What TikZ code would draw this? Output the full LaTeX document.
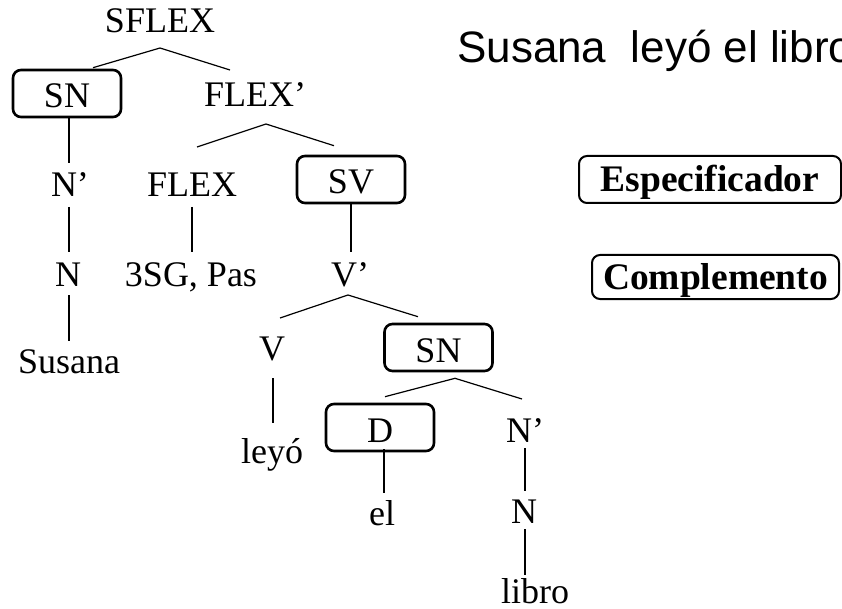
\documentclass[tikz,border=0pt]{standalone}
\usepackage{fontspec}
\setmainfont{Liberation Serif}
\newfontfamily\titlefont{Liberation Sans}
\usetikzlibrary{calc}
\begin{document}
\begin{tikzpicture}[x=1pt,y=-1pt,
  lbl/.style={inner sep=0pt,anchor=base,font=\fontsize{36}{40}\selectfont},
  tbox/.style={draw,line width=2.6pt,rounded corners=8pt,inner sep=0pt,
    minimum width=108pt,minimum height=47pt,text height=29pt,text depth=0pt,
    font=\fontsize{36}{40}\selectfont},
  lbox/.style={draw,line width=2pt,rounded corners=8pt,inner sep=0pt,
    text height=25pt,text depth=0pt,font=\fontsize{37.5}{40}\selectfont\bfseries},
  edge/.style={line width=1.2pt}]
\useasboundingbox (0,0) rectangle (842,609);
% title
\node[inner sep=0pt,anchor=base west,font=\titlefont\fontsize{44}{48}\selectfont]
  (title) at (457,63) {Susana\ \ leyó el libro};
% legend boxes
\node[lbox,minimum width=262pt,minimum height=47pt] (spec) at (710,179.5) {Especificador};
\node[lbox,minimum width=247pt,minimum height=44pt] (comp) at (715.5,277) {Complemento};
% tree nodes
\node[lbl] (sflex) at (160,33) {SFLEX};
\node[tbox] (sn) at (67,93.5) {SN};
\node[lbl] (flexp) at (255,107) {FLEX’};
\node[lbl] (np1) at (70,197) {N’};
\node[lbl] (flex) at (192,197) {FLEX};
\node[tbox] (sv) at (351,179.5) {SV};
\node[lbl] (n1) at (68,287) {N};
\node[lbl] (sg) at (191,287) {3SG, Pas};
\node[lbl] (vp) at (350,287) {V’};
\node[lbl] (susana) at (69,373) {Susana};
\node[lbl] (v) at (272,360) {V};
\node[tbox] (sn2) at (438.5,347.5) {SN};
\node[lbl] (leyo) at (272,463) {leyó};
\node[tbox] (d) at (380,427.5) {D};
\node[lbl] (np2) at (525,442) {N’};
\node[lbl] (el) at (382,525) {el};
\node[lbl] (n2) at (524,523) {N};
\node[lbl] (libro) at (535,603) {libro};
% connectors
\draw[edge] ($(sn.north)+(26,-1)$) -- ($(sflex.base)+(0,15)$) -- ($(flexp.base)+(-25,-37)$);
\draw[edge] ($(flex.base)+(5,-50)$) -- ($(flexp.base)+(11,17)$) -- ($(sv.north)+(-17,-9)$);
\draw[edge] ($(sn.south)+(2,0)$) -- ($(np1.base)+(-1,-34)$);
\draw[edge] ($(np1.base)+(-1,10)$) -- ($(n1.base)+(1,-35)$);
\draw[edge] ($(n1.base)+(1,8)$) -- ($(susana.base)+(0,-32)$);
\draw[edge] ($(flex.base)+(0,10)$) -- ($(sg.base)+(1,-35)$);
\draw[edge] (sv.south) -- ($(vp.base)+(1,-35)$);
\draw[edge] ($(v.base)+(8,-42)$) -- ($(vp.base)+(-2,8)$) -- ($(sn2.north)+(-20.5,-6)$);
\draw[edge] ($(v.base)+(1,18)$) -- ($(leyo.base)+(1,-40)$);
\draw[edge] ($(d.north)+(5,-6)$) -- ($(sn2.south)+(16.5,6)$) -- ($(np2.base)+(-3,-43)$);
\draw[edge] ($(d.south)+(4,-3)$) -- ($(el.base)+(2,-32)$);
\draw[edge] ($(np2.base)+(0,6)$) -- ($(n2.base)+(1,-32)$);
\draw[edge] ($(n2.base)+(1,6)$) -- ($(libro.base)+(-10,-28)$);
\end{tikzpicture}
\end{document}
